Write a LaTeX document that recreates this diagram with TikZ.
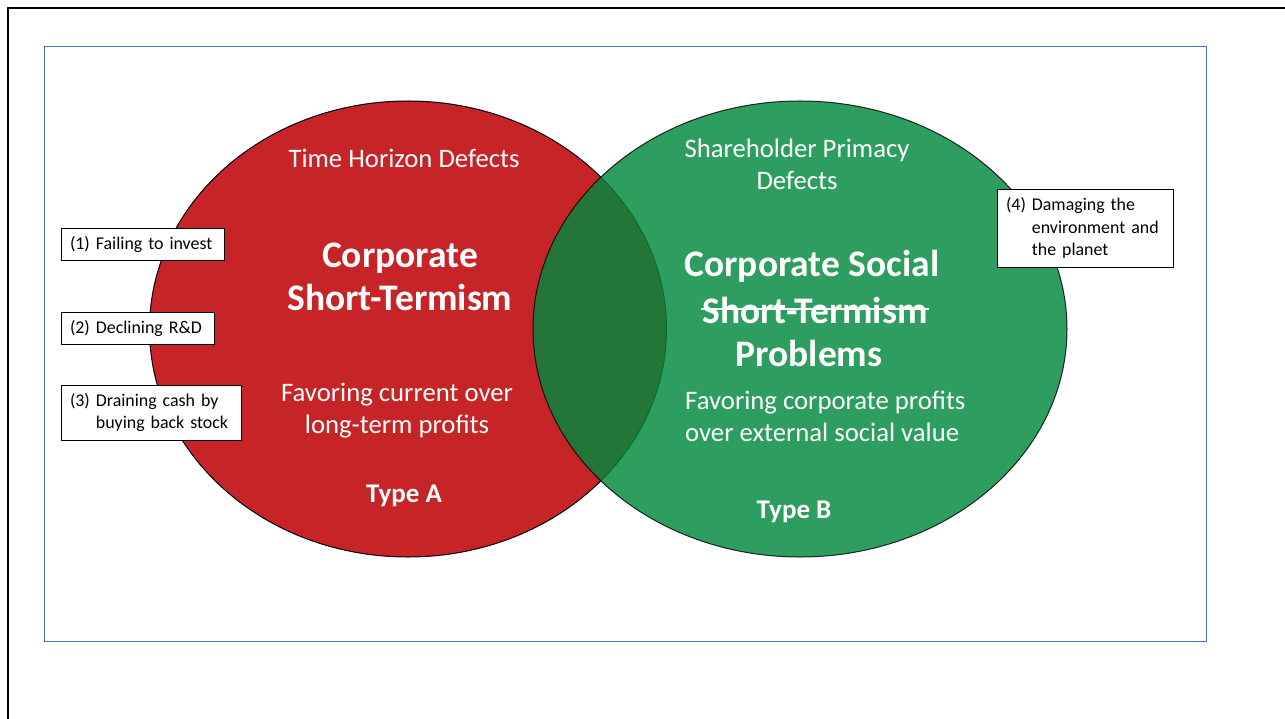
\documentclass[tikz,border=0pt]{standalone}
\usepackage{fontspec}
\setmainfont{Carlito}
\definecolor{redA}{RGB}{198,36,38}
\definecolor{greenB}{RGB}{0,137,61}
\definecolor{frameblue}{RGB}{68,114,196}
\begin{document}
\begin{tikzpicture}[x=1pt,y=-1pt,
  lbl/.style={text=white,font=\fontsize{26.7}{32}\selectfont,align=center,inner sep=0pt},
  big/.style={text=white,font=\fontsize{37.5}{43}\selectfont\bfseries,align=center,inner sep=0pt},
  typ/.style={text=white,font=\fontsize{27}{30}\selectfont\bfseries,inner sep=0pt},
  tag/.style={draw=black,line width=0.8pt,fill=white,font=\fontsize{17.9}{22.5}\selectfont,
    align=left,inner xsep=9pt,inner ysep=0pt}]
\useasboundingbox (0,0) rectangle (1285,719);
% outer frame
\draw[line width=2.5pt] (1300,8) -- (8,8) -- (8,730);
% blue frame
\draw[frameblue,line width=1pt] (44,47) rectangle (1206,641);
% ellipses
\path[fill=redA,draw=black,line width=1pt] (408,329) ellipse [x radius=258.5pt, y radius=228pt];
\path[fill=greenB,draw=black,line width=1pt,fill opacity=0.82,draw opacity=0.82] (800,329) ellipse [x radius=267pt, y radius=228pt];
% red texts
\node[lbl] (thd) at (404,158) {Time Horizon Defects};
\node[big] (cst) at (400,277) {Corporate\\Short-Termism};
\node[lbl] (fav) at (397,411) {Favoring current over\\long-term profits};
\node[typ] (ta) at (404,496) {Type A};
% green texts
\node[lbl] (spd) at (797,164) {Shareholder Primacy\\Defects};
\node[big] (css) at (812,266) {Corporate Social};
\node[big] (stt) at (815,310) {Short-Termism};
\draw[white,line width=2.8pt] ([xshift=-1pt,yshift=1pt]stt.west) -- ([xshift=1pt,yshift=1pt]stt.east);
\node[big] (prb) at (809,353) {Problems};
\node[lbl,align=left,anchor=west] (fcp) at (685,416) {Favoring corporate profits\\over external social value};
\node[typ] (tb) at (794,512) {Type B};
% side boxes
\node[tag,minimum width=163pt,minimum height=32pt,text width=145pt] (b1) at (142.5,244) {(1) Failing to invest};
\node[tag,minimum width=153pt,minimum height=32pt,text width=135pt] (b2) at (137.5,328) {(2) Declining R\&D};
\node[tag,minimum width=180pt,minimum height=55pt,text width=162pt] (b3) at (151,412.5) {(3) Draining cash by\\\hphantom{(3)} buying back stock};
\node[tag,minimum width=176pt,minimum height=78pt,text width=158pt] (b4) at (1085,228) {(4) Damaging the\\\hphantom{(4)} environment and\\\hphantom{(4)} the planet};
\end{tikzpicture}
\end{document}
